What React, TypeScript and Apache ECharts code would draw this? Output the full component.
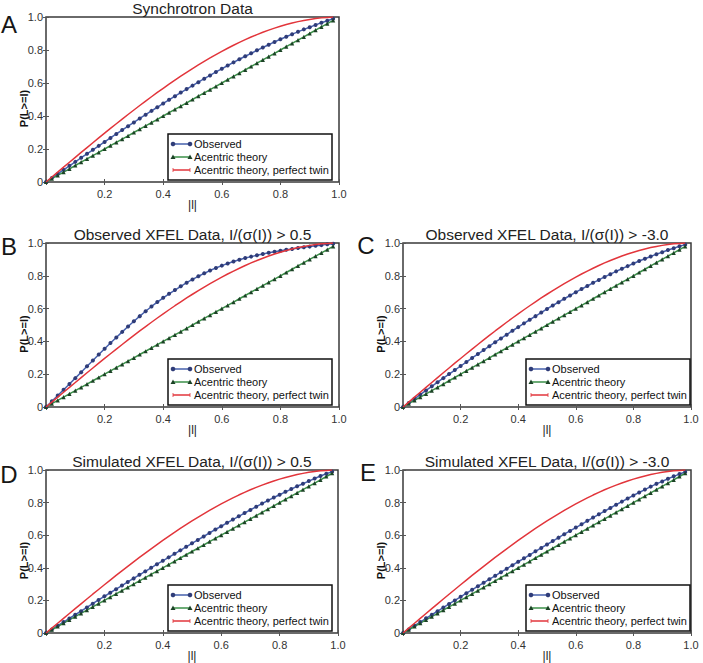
import React, { useEffect, useRef } from "react";
import * as echarts from "echarts";

// |l| sample points (x axis)
const L_VALUES = [
  0, 0.02, 0.04, 0.06, 0.08, 0.1, 0.12, 0.14, 0.16, 0.18,
  0.2, 0.22, 0.24, 0.26, 0.28, 0.3, 0.32, 0.34, 0.36, 0.38,
  0.4, 0.42, 0.44, 0.46, 0.48, 0.5, 0.52, 0.54, 0.56, 0.58,
  0.6, 0.62, 0.64, 0.66, 0.68, 0.7, 0.72, 0.74, 0.76, 0.78,
  0.8, 0.82, 0.84, 0.86, 0.88, 0.9, 0.92, 0.94, 0.96, 0.98,
];

// Acentric theory
const ACENTRIC = [
  0, 0.02, 0.04, 0.06, 0.08, 0.1, 0.12, 0.14, 0.16, 0.18,
  0.2, 0.22, 0.24, 0.26, 0.28, 0.3, 0.32, 0.34, 0.36, 0.38,
  0.4, 0.42, 0.44, 0.46, 0.48, 0.5, 0.52, 0.54, 0.56, 0.58,
  0.6, 0.62, 0.64, 0.66, 0.68, 0.7, 0.72, 0.74, 0.76, 0.78,
  0.8, 0.82, 0.84, 0.86, 0.88, 0.9, 0.92, 0.94, 0.96, 0.98,
];

// Acentric theory, perfect twin
const TWIN = [
  0, 0.03, 0.06, 0.0899, 0.1197, 0.1495, 0.1791, 0.2086, 0.238, 0.2671,
  0.296, 0.3247, 0.3531, 0.3812, 0.409, 0.4365, 0.4636, 0.4904, 0.5167, 0.5426,
  0.568, 0.593, 0.6174, 0.6413, 0.6647, 0.6875, 0.7097, 0.7313, 0.7522, 0.7724,
  0.792, 0.8108, 0.8289, 0.8463, 0.8628, 0.8785, 0.8934, 0.9074, 0.9205, 0.9327,
  0.944, 0.9543, 0.9637, 0.972, 0.9793, 0.9855, 0.9907, 0.9947, 0.9976, 0.9994,
];

// Observed curves
const OBS_A = [
  0, 0.0245, 0.049, 0.0735, 0.098, 0.122, 0.147, 0.171, 0.195, 0.219,
  0.243, 0.267, 0.291, 0.315, 0.338, 0.361, 0.385, 0.408, 0.431, 0.453,
  0.476, 0.498, 0.52, 0.542, 0.563, 0.584, 0.605, 0.626, 0.646, 0.667,
  0.686, 0.706, 0.725, 0.744, 0.762, 0.78, 0.798, 0.815, 0.832, 0.849,
  0.865, 0.88, 0.896, 0.91, 0.925, 0.938, 0.952, 0.965, 0.977, 0.989,
];
const OBS_B = [
  0, 0.035, 0.07, 0.105, 0.14, 0.176, 0.212, 0.248, 0.284, 0.32,
  0.355, 0.39, 0.424, 0.458, 0.491, 0.523, 0.554, 0.584, 0.613, 0.64,
  0.666, 0.69, 0.713, 0.736, 0.758, 0.778, 0.797, 0.815, 0.832, 0.848,
  0.862, 0.875, 0.887, 0.898, 0.908, 0.917, 0.925, 0.933, 0.94, 0.947,
  0.953, 0.959, 0.964, 0.969, 0.974, 0.978, 0.983, 0.987, 0.992, 0.996,
];
const OBS_C = [
  0, 0.025, 0.05, 0.076, 0.101, 0.126, 0.151, 0.176, 0.201, 0.225,
  0.25, 0.274, 0.299, 0.323, 0.347, 0.371, 0.395, 0.418, 0.441, 0.465,
  0.487, 0.51, 0.532, 0.554, 0.576, 0.598, 0.619, 0.639, 0.66, 0.68,
  0.7, 0.719, 0.738, 0.757, 0.775, 0.793, 0.81, 0.827, 0.843, 0.859,
  0.875, 0.89, 0.904, 0.918, 0.932, 0.944, 0.957, 0.968, 0.98, 0.99,
];
const OBS_D = [
  0, 0.022, 0.045, 0.067, 0.089, 0.112, 0.134, 0.157, 0.18, 0.203,
  0.225, 0.247, 0.269, 0.291, 0.313, 0.335, 0.357, 0.378, 0.4, 0.422,
  0.443, 0.464, 0.486, 0.507, 0.529, 0.55, 0.571, 0.592, 0.614, 0.635,
  0.655, 0.676, 0.696, 0.716, 0.736, 0.755, 0.775, 0.794, 0.813, 0.831,
  0.848, 0.866, 0.883, 0.9, 0.916, 0.932, 0.948, 0.963, 0.977, 0.99,
];
const OBS_E = [
  0, 0.022, 0.045, 0.067, 0.09, 0.112, 0.134, 0.156, 0.178, 0.2,
  0.222, 0.244, 0.265, 0.287, 0.308, 0.33, 0.351, 0.373, 0.394, 0.416,
  0.437, 0.458, 0.479, 0.501, 0.522, 0.543, 0.564, 0.585, 0.606, 0.626,
  0.647, 0.667, 0.688, 0.708, 0.728, 0.748, 0.767, 0.787, 0.806, 0.825,
  0.844, 0.862, 0.88, 0.898, 0.915, 0.93, 0.946, 0.961, 0.975, 0.988,
];

const LETTERS = ["A", "B", "C", "D", "E"];
const TITLES = [
  "Synchrotron Data",
  "Observed XFEL Data, I/(σ(I)) > 0.5",
  "Observed XFEL Data, I/(σ(I)) > -3.0",
  "Simulated XFEL Data, I/(σ(I)) > 0.5",
  "Simulated XFEL Data, I/(σ(I)) > -3.0",
];
const OBSERVED = [OBS_A, OBS_B, OBS_C, OBS_D, OBS_E];
const SERIES_NAMES = ["Observed", "Acentric theory", "Acentric theory, perfect twin"];
const X_TICKS = { min: 0, max: 1, interval: 0.2 };
const X_NAME = "|l|";
const Y_NAME = "P(L>=l)";

// layout (pixels)
const LAYOUT = [
  { left: 46, top: 17, width: 293, height: 165, legendLeft: 168, letterX: 9, letterY: 24 },
  { left: 46, top: 243, width: 293, height: 164, legendLeft: 168, letterX: 9, letterY: 246 },
  { left: 403, top: 243, width: 288, height: 164, legendLeft: 526, letterX: 366, letterY: 245 },
  { left: 46, top: 470, width: 292, height: 163, legendLeft: 168, letterX: 9, letterY: 474 },
  { left: 403, top: 470, width: 288, height: 163, legendLeft: 526, letterX: 368, letterY: 472 },
];
const LEGEND_W = 164;
const LEGEND_H = 46;

const FONT = '"Liberation Sans", Arial, Helvetica, sans-serif';
const BLUE_LINE = "#4660ad";
const BLUE_MARK = "#2f3c78";
const GREEN_LINE = "#3b9048";
const GREEN_MARK = "#1c4226";
const RED = "#e2353b";

function legendGraphic(left: number, top: number) {
  const children: any[] = [];
  children.push({
    type: "rect",
    shape: { x: left, y: top, width: LEGEND_W, height: LEGEND_H },
    style: { fill: "#fff", stroke: "#111", lineWidth: 1.5 },
  });
  const x1 = left + 5;
  const x2 = left + 22;
  const rows = [top + 10, top + 23, top + 36];
  // Observed
  children.push({
    type: "line",
    shape: { x1, y1: rows[0], x2, y2: rows[0] },
    style: { stroke: BLUE_LINE, lineWidth: 1.5 },
  });
  [x1, x2].forEach((cx) =>
    children.push({ type: "circle", shape: { cx, cy: rows[0], r: 2.3 }, style: { fill: BLUE_MARK } })
  );
  // Acentric
  children.push({
    type: "line",
    shape: { x1, y1: rows[1], x2, y2: rows[1] },
    style: { stroke: GREEN_LINE, lineWidth: 1.5 },
  });
  [x1, x2].forEach((cx) =>
    children.push({
      type: "polygon",
      shape: {
        points: [
          [cx - 2.5, rows[1] + 2],
          [cx + 2.5, rows[1] + 2],
          [cx, rows[1] - 2.6],
        ],
      },
      style: { fill: GREEN_MARK },
    })
  );
  // Twin
  children.push({
    type: "line",
    shape: { x1, y1: rows[2], x2, y2: rows[2] },
    style: { stroke: RED, lineWidth: 1.5 },
  });
  [x1, x2].forEach((cx) =>
    children.push({
      type: "line",
      shape: { x1: cx, y1: rows[2] - 2, x2: cx, y2: rows[2] + 2 },
      style: { stroke: RED, lineWidth: 0.8 },
    })
  );
  SERIES_NAMES.forEach((name, k) =>
    children.push({
      type: "text",
      x: left + 26,
      y: rows[k],
      style: {
        text: name,
        fontFamily: FONT,
        fontSize: 11,
        fill: "#111",
        textAlign: "left",
        textVerticalAlign: "middle",
        align: "left",
        verticalAlign: "middle",
      },
    })
  );
  return { type: "group", z: 50, children };
}

function buildOption() {
  const grid: any[] = [];
  const xAxis: any[] = [];
  const yAxis: any[] = [];
  const series: any[] = [];
  const graphic: any[] = [];

  LAYOUT.forEach((g, i) => {
    grid.push({
      left: g.left,
      top: g.top,
      width: g.width,
      height: g.height,
      show: true,
      borderColor: "#3a3a3a",
      borderWidth: 1.5,
      backgroundColor: "#fff",
      containLabel: false,
      outerBoundsMode: "none",
    });
    xAxis.push({
      type: "value",
      gridIndex: i,
      position: "bottom",
      ...X_TICKS,
      name: X_NAME,
      nameLocation: "middle",
      nameGap: 17,
      nameMoveOverlap: false,
      nameTextStyle: { fontFamily: FONT, fontSize: 12, color: "#222" },
      axisLine: { show: false },
      axisTick: { show: true, inside: true, length: 3, lineStyle: { color: "#555" } },
      splitLine: { show: false },
      axisLabel: {
        fontFamily: FONT,
        fontSize: 11,
        color: "#333",
        margin: 6,
        formatter: (v: number) => (v === 0 ? "" : v.toFixed(1)),
      },
    });
    xAxis.push({
      type: "value",
      gridIndex: i,
      position: "top",
      ...X_TICKS,
      axisLine: { show: false },
      axisTick: { show: true, inside: true, length: 3, lineStyle: { color: "#555" } },
      splitLine: { show: false },
      axisLabel: { show: false },
    });
    yAxis.push({
      type: "value",
      gridIndex: i,
      position: "left",
      ...X_TICKS,
      name: Y_NAME,
      nameLocation: "middle",
      nameGap: 17,
      nameMoveOverlap: false,
      nameTextStyle: {
        fontFamily: FONT,
        fontSize: 11,
        fontWeight: "bold",
        color: "#111",
        padding: [0, 18, 0, 0],
      },
      axisLine: { show: false },
      axisTick: { show: true, inside: true, length: 3, lineStyle: { color: "#555" } },
      splitLine: { show: false },
      axisLabel: {
        fontFamily: FONT,
        fontSize: 11,
        color: "#333",
        margin: 3,
        formatter: (v: number) => (v === 0 ? "0" : v.toFixed(1)),
      },
    });
    yAxis.push({
      type: "value",
      gridIndex: i,
      position: "right",
      ...X_TICKS,
      axisLine: { show: false },
      axisTick: { show: true, inside: true, length: 3, lineStyle: { color: "#555" } },
      splitLine: { show: false },
      axisLabel: { show: false },
    });

    const obs = OBSERVED[i];
    series.push({
      type: "line",
      name: SERIES_NAMES[0],
      xAxisIndex: i * 2,
      yAxisIndex: i * 2,
      data: L_VALUES.map((x, k) => [x, obs[k]]),
      symbol: "circle",
      symbolSize: 4,
      showSymbol: true,
      lineStyle: { color: BLUE_LINE, width: 1.5 },
      itemStyle: { color: BLUE_MARK, borderColor: BLUE_MARK, borderWidth: 0 },
      z: 3,
    });
    series.push({
      type: "line",
      name: SERIES_NAMES[1],
      xAxisIndex: i * 2,
      yAxisIndex: i * 2,
      data: L_VALUES.map((x, k) => [x, ACENTRIC[k]]),
      symbol: "triangle",
      symbolSize: 4.2,
      showSymbol: true,
      lineStyle: { color: GREEN_LINE, width: 1.5 },
      itemStyle: { color: GREEN_MARK, borderColor: GREEN_MARK, borderWidth: 0 },
      z: 3,
    });
    series.push({
      type: "line",
      name: SERIES_NAMES[2],
      xAxisIndex: i * 2,
      yAxisIndex: i * 2,
      data: L_VALUES.map((x, k) => [x, TWIN[k]]),
      symbol: "none",
      lineStyle: { color: RED, width: 1.5 },
      itemStyle: { color: RED },
      z: 4,
    });

    graphic.push(legendGraphic(g.legendLeft, g.top + g.height - LEGEND_H - 2));

    graphic.push({
      type: "text",
      x: g.left + g.width / 2,
      y: g.top - 9,
      style: {
        text: TITLES[i],
        fontFamily: FONT,
        fontSize: 15.5,
        fill: "#222",
        textAlign: "center",
        textVerticalAlign: "middle",
        align: "center",
        verticalAlign: "middle",
      },
    });
    graphic.push({
      type: "text",
      x: g.letterX,
      y: g.letterY,
      style: {
        text: LETTERS[i],
        fontFamily: FONT,
        fontSize: 24,
        fill: "#161616",
        textAlign: "center",
        textVerticalAlign: "middle",
        align: "center",
        verticalAlign: "middle",
      },
    });
  });

  return {
    animation: false,
    backgroundColor: "#fff",
    grid,
    xAxis,
    yAxis,
    series,
    graphic,
  };
}

export default function App() {
  const ref = useRef<HTMLDivElement | null>(null);
  useEffect(() => {
    document.body.style.margin = "0";
    if (!ref.current) return;
    const chart = echarts.init(ref.current, null, { renderer: "svg" });
    chart.setOption(buildOption() as any);
    return () => chart.dispose();
  }, []);
  return <div ref={ref} style={{ width: 703, height: 663 }} />;
}
